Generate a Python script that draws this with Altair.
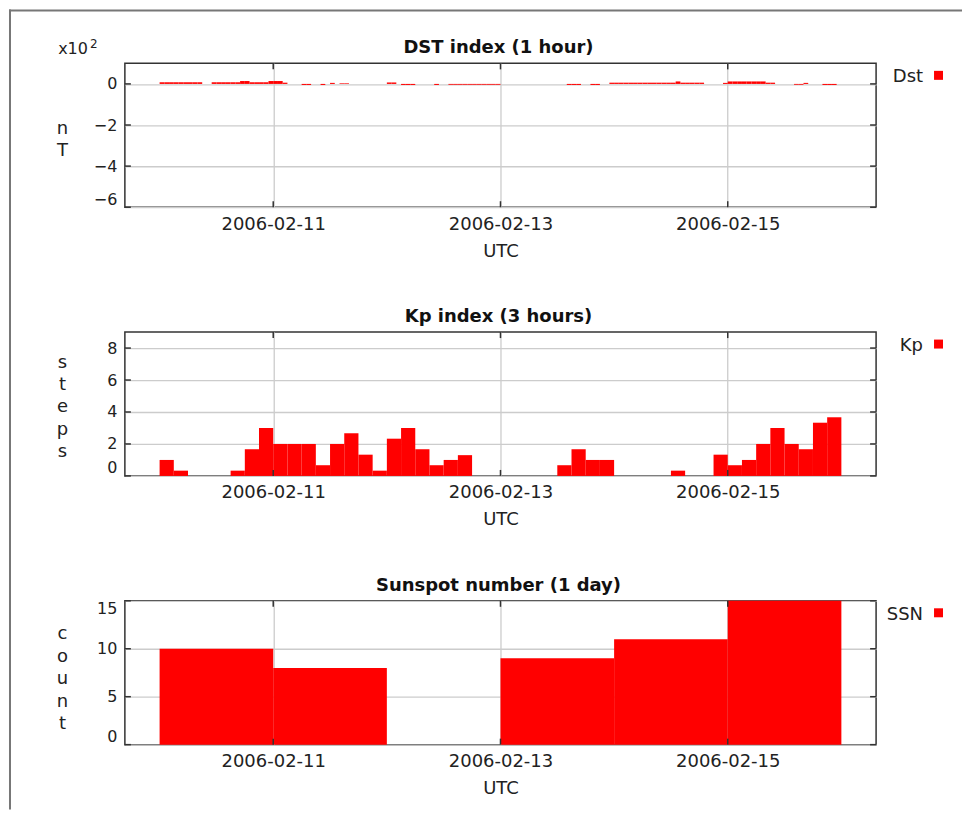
import altair as alt
import pandas as pd

# ---------------- data ----------------
# Dst index, hourly from 2006-02-10 00:00 UTC (nT)
dst_values = [
    8, 8, 8, 8, 8, 8, 8, 8, 8, 0, 0, 8, 8, 8, 8, 8, 8, 14, 14, 8, 8, 8, 8, 14,
    14, 14, 6, 0, 0, 0, -5, -5, 0, 0, -5, 0, 5, 0, 3, 3, 0, 0, 0, 0, 0, 0, 0, 0,
    7, 7, 0, -5, -5, -5, 0, 0, 0, 0, -5, 0, 0, -4, -4, -4, -4, -4, -4, -4, -4, -4, -4, -4,
    0, 0, 0, 0, 0, 0, 0, 0, 0, 0, 0, 0, 0, 0, -5, -5, -5, 0, 0, -5, -5, 0, 0, 6,
    6, 6, 6, 6, 6, 6, 6, 6, 6, 6, 6, 6, 6, 12, 6, 6, 6, 6, 6, 0, 0, 0, 0, 5,
    12, 12, 12, 12, 12, 12, 12, 12, 6, 6, 0, 0, 0, 0, -4, -4, 5, 0, 0, 0, -5, -5, -5, 0,
]
# Kp index, 3-hourly from 2006-02-10 00:00 UTC
kp_values = [
    1.0, 0.33, 0, 0, 0, 0.33, 1.67, 3.0,
    2.0, 2.0, 2.0, 0.67, 2.0, 2.67, 1.33, 0.33,
    2.33, 3.0, 1.67, 0.67, 1.0, 1.3, 0, 0,
    0, 0, 0, 0, 0.67, 1.67, 1.0, 1.0,
    0, 0, 0, 0, 0.33, 0, 0, 1.33,
    0.67, 1.0, 2.0, 3.0, 2.0, 1.67, 3.33, 3.67,
]
# Sunspot number, daily from 2006-02-10
ssn_days = ["2006-02-10", "2006-02-11", "2006-02-12", "2006-02-13", "2006-02-14", "2006-02-15"]
ssn_values = [10, 8, 0, 9, 11, 15]

tick_days = [11, 13, 15]
dst_ticks = [-600, -400, -200, 0]
kp_ticks = [0, 2, 4, 6, 8]
ssn_ticks = [0, 5, 10, 15]

FMT = "%Y-%m-%dT%H:%M:%SZ"


def series(start, step, values):
    t = pd.date_range(start, periods=len(values), freq=step)
    return pd.DataFrame({
        "t": t.strftime(FMT),
        "t2": (t + pd.Timedelta(step)).strftime(FMT),
        "v": values,
    })


dst_df = series("2006-02-10", "1h", dst_values)
kp_df = series("2006-02-10", "3h", kp_values)
ssn_t = pd.to_datetime(ssn_days)
ssn_df = pd.DataFrame({
    "t": ssn_t.strftime(FMT),
    "t2": (ssn_t + pd.Timedelta("1D")).strftime(FMT),
    "v": ssn_values,
})

# ---------------- style ----------------
W, H = 752, 144
FONT = "DejaVu Sans"
RED = "#ff0000"
INK = "#222222"
BORDER = "#333333"

X_DOMAIN = [
    alt.DateTime(year=2006, month=2, date=9, hours=16, minutes=40, utc=True),
    alt.DateTime(year=2006, month=2, date=16, hours=7, minutes=20, utc=True),
]
X_VALUES = [alt.DateTime(year=2006, month=2, date=d, utc=True) for d in tick_days]
tick_df = pd.DataFrame({"t": ["2006-02-%02dT00:00:00Z" % d for d in tick_days]})
one = pd.DataFrame({"a": [0]})


def xscale():
    return alt.Scale(type="utc", domain=X_DOMAIN)


def panel(df, title, ytitle, ytitle_y, ydomain, yticks, legend, label_expr=None, extra=()):
    yscale = alt.Scale(domain=ydomain, nice=False, zero=False)
    yaxis_kw = dict(
        values=yticks, tickCount=20, title=list(ytitle), titleAngle=0, titleX=-63,
        titleY=ytitle_y, titleAlign="center", titleBaseline="middle",
        titleLineHeight=22.5, titleFontSize=18, titleFontWeight="normal",
        labelFontSize=16, labelPadding=8, labelFlush=True, labelOverlap=False,
        ticks=False, domain=False, grid=True,
    )
    if label_expr:
        yaxis_kw["labelExpr"] = label_expr
    else:
        yaxis_kw["format"] = "d"
    xaxis = alt.Axis(
        values=X_VALUES, tickCount=20, format="%Y-%m-%d", title="UTC", labelFontSize=18,
        labelPadding=8, labelBaseline="top", titleY=49, titleBaseline="alphabetic",
        titleFontSize=18, titleFontWeight="normal", grid=True, ticks=False,
        domain=False, labelFlush=False, labelOverlap=False,
    )
    bars = alt.Chart(df).mark_rect(color=RED).encode(
        x=alt.X("t:T", scale=xscale(), axis=xaxis),
        x2="t2:T",
        y=alt.Y("v:Q", scale=yscale, axis=alt.Axis(**yaxis_kw)),
        y2=alt.Y2(datum=0),
    )
    tick_style = dict(color=BORDER, strokeWidth=1.5)
    top_ticks = alt.Chart(tick_df).mark_rule(**tick_style).encode(
        x=alt.X("t:T"), y=alt.value(0), y2=alt.value(6))
    bot_ticks = alt.Chart(tick_df).mark_rule(**tick_style).encode(
        x=alt.X("t:T"), y=alt.value(H - 6), y2=alt.value(H))
    ydf = pd.DataFrame({"v": yticks})
    left_ticks = alt.Chart(ydf).mark_rule(**tick_style).encode(
        y=alt.Y("v:Q"), x=alt.value(0), x2=alt.value(6))
    right_ticks = alt.Chart(ydf).mark_rule(**tick_style).encode(
        y=alt.Y("v:Q"), x=alt.value(W - 6), x2=alt.value(W))
    leg_text = alt.Chart(one).mark_text(
        text=legend, align="right", baseline="middle", fontSize=18, font=FONT, color=INK
    ).encode(x=alt.value(799), y=alt.value(14))
    leg_sq = alt.Chart(one).mark_square(color=RED, size=81, opacity=1, filled=True).encode(
        x=alt.value(814.5), y=alt.value(12))
    title_txt = alt.Chart(one).mark_text(
        text=title, align="center", baseline="alphabetic", fontSize=18,
        fontWeight="bold", font=FONT, color="#111111"
    ).encode(x=alt.value(W / 2 - 2), y=alt.value(-10))
    layers = [bars, top_ticks, bot_ticks, left_ticks, right_ticks,
              leg_text, leg_sq, title_txt] + list(extra)
    return alt.layer(*layers).properties(width=W, height=H)


x10 = alt.Chart(one).mark_text(
    text="x10", align="right", baseline="alphabetic", fontSize=16, font=FONT, color=INK
).encode(x=alt.value(-37), y=alt.value(-9))
x10_exp = alt.Chart(one).mark_text(
    text="2", align="left", baseline="alphabetic", fontSize=12, font=FONT, color=INK
).encode(x=alt.value(-35), y=alt.value(-15))
frame_v = alt.Chart(one).mark_rect(color="#777777").encode(
    x=alt.value(-116), x2=alt.value(-114), y=alt.value(-54), y2=alt.value(747))
frame_h = alt.Chart(one).mark_rect(color="#777777").encode(
    x=alt.value(-116), x2=alt.value(838), y=alt.value(-54), y2=alt.value(-52))

p1 = panel(dst_df, "DST index (1 hour)", "nT", 65, [-600, 100], dst_ticks, "Dst",
           label_expr="format(datum.value / 100, 'd')",
           extra=(x10, x10_exp, frame_v, frame_h))
p2 = panel(kp_df, "Kp index (3 hours)", "steps", 30, [0, 9], kp_ticks, "Kp")
p3 = panel(ssn_df, "Sunspot number (1 day)", "count", 33, [0, 15], ssn_ticks, "SSN")

chart = alt.vconcat(p1, p2, p3, spacing=125, bounds="flush").properties(
    padding=0, background="white"
).configure_view(
    stroke=BORDER, strokeWidth=1.5
).configure_axis(
    gridColor="#cccccc", gridWidth=1.3, labelColor=INK, titleColor=INK,
    labelFont=FONT, titleFont=FONT,
).configure_text(font=FONT)

chart.save("out.html", embed_options={"renderer": "svg", "actions": False})
